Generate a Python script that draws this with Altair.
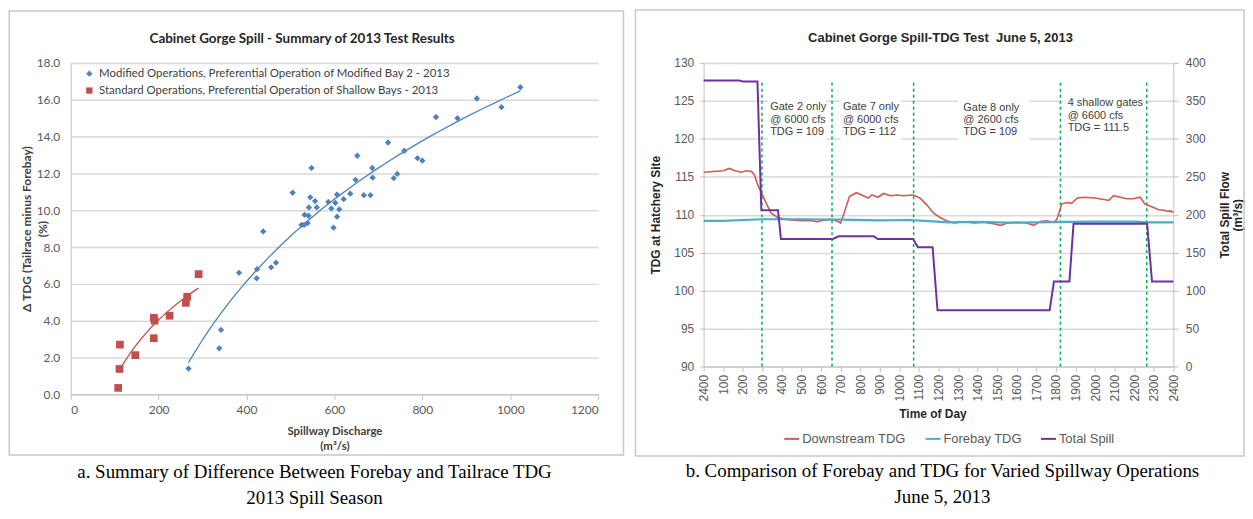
import altair as alt
import pandas as pd

# ---------------- Panel a: Cabinet Gorge Spill - Summary of 2013 Test Results ----------------
series_a = [
    "Modified Operations, Preferential Operation of Modified Bay 2 - 2013",
    "Standard Operations, Preferential Operation of Shallow Bays - 2013",
]
color_a = ["#4F81BD", "#C0504D"]
mod_discharge = [268, 338, 342, 383, 424, 423, 438, 456, 467, 505,
                 525, 531, 532, 539, 541, 542, 545, 548, 556, 560,
                 586, 593, 598, 602, 606, 606, 611, 621, 636, 648,
                 652, 667, 682, 686, 687, 722, 735, 743, 759, 789,
                 800, 831, 880, 924, 980, 1023]
mod_dtdg = [1.4, 2.5, 3.5, 6.6, 6.8, 6.3, 8.85, 6.9, 7.15, 10.95,
            9.2, 9.2, 9.75, 9.3, 9.7, 10.15, 10.7, 12.3, 10.5, 10.15,
            10.45, 10.1, 9.05, 10.4, 10.85, 9.65, 10.05, 10.6, 10.9, 11.65,
            12.96, 10.82, 10.82, 12.3, 11.77, 13.68, 11.74, 11.97, 13.23, 12.83,
            12.69, 15.06, 15.0, 16.07, 15.6, 16.68]
std_discharge = [108, 111, 112, 147, 189, 189, 191, 225, 262, 265, 291]
std_dtdg = [0.35, 1.38, 2.7, 2.13, 3.05, 4.16, 4.0, 4.27, 4.97, 5.3, 6.53]
discharge_ticks = [0, 200, 400, 600, 800, 1000, 1200]
dtdg_ticks = [0, 2, 4, 6, 8, 10, 12, 14, 16, 18]

# ---------------- Panel b: Cabinet Gorge Spill-TDG Test June 5, 2013 ----------------
series_b = ["Downstream TDG", "Forebay TDG", "Total Spill"]
color_b = ["#D05A55", "#4BACC6", "#7030A0"]
down_hour = [0.0, 0.5, 1.0, 1.3, 1.6, 1.9, 2.2, 2.45, 2.6, 2.77, 2.97, 3.2, 3.45, 3.8,
             4.3, 5.0, 5.5, 5.8, 6.0, 6.5, 6.85, 7.0, 7.2, 7.45, 7.8, 8.0, 8.4, 8.6,
             8.9, 9.2, 9.55, 9.9, 10.2, 10.7, 11.05, 11.4, 11.75, 12.1, 12.4, 12.8,
             13.3, 13.8, 14.3, 14.8, 15.2, 15.5, 16.0, 16.5, 16.85, 17.2, 17.5, 17.9,
             18.05, 18.3, 18.55, 18.8, 19.1, 19.5, 20.0, 20.45, 20.7, 20.95, 21.3,
             21.6, 21.95, 22.3, 22.55, 22.9, 23.25, 23.5, 23.7, 23.85, 24.0]
down_tdg = [115.6, 115.7, 115.8, 116.1, 115.8, 115.6, 115.8, 115.7, 115.2, 113.9, 112.8,
            111.5, 110.2, 109.6, 109.35, 109.2, 109.25, 109.05, 109.2, 109.4, 109.1, 108.9,
            110.4, 112.4, 112.9, 112.7, 112.2, 112.6, 112.3, 112.8, 112.5, 112.6, 112.5,
            112.6, 112.2, 111.3, 110.2, 109.6, 109.2, 108.9, 109.1, 108.9, 109.0, 108.8,
            108.6, 108.9, 109.0, 108.9, 108.6, 109.1, 109.2, 109.0, 109.4, 111.4, 111.6,
            111.5, 112.2, 112.3, 112.2, 112.0, 111.9, 112.5, 112.3, 112.1, 112.1, 112.3,
            111.4, 111.05, 110.65, 110.6, 110.45, 110.5, 110.3]
fore_hour = [0.0, 1.0, 2.0, 3.0, 5.0, 7.0, 9.0, 10.5, 11.5, 12.5, 14.0, 15.5, 17.0,
             18.5, 20.0, 22.0, 22.7, 24.0]
fore_tdg = [109.2, 109.2, 109.3, 109.4, 109.4, 109.35, 109.25, 109.3, 109.15, 109.0,
            109.05, 108.95, 109.0, 109.05, 109.1, 109.1, 109.0, 109.0]
spill_hour = [0.0, 1.8, 2.0, 2.75, 2.95, 3.8, 3.95, 6.6, 6.9, 8.7, 8.9, 10.7, 10.95,
              11.7, 11.95, 17.68, 17.9, 18.69, 18.9, 22.66, 22.91, 24.0]
spill_flow = [377, 377, 375.5, 375.5, 206, 206, 168, 168, 171.5, 171.5, 168, 168, 157,
              157, 74, 74, 112, 112, 188, 188, 112, 112]
gate_change_hour = [2.98, 6.56, 10.73, 18.23, 22.64]
note_hour = [3.4, 7.12, 13.27, 18.6]
note_text = [
    ["Gate 2 only", "@ 6000 cfs", "TDG = 109"],
    ["Gate 7 only", "@ 6000 cfs", "TDG = 112"],
    ["Gate 8 only", "@ 2600 cfs", "TDG = 109"],
    ["4 shallow gates", "@ 6600 cfs", "TDG = 111.5"],
]
note_tdg = [
    [124.14, 122.52, 120.95],
    [124.14, 122.52, 120.95],
    [124.06, 122.49, 120.86],
    [124.66, 123.05, 121.44],
]
box_hour_start = [3.3, 7.0, 13.0, 18.3]
box_hour_end = [6.25, 10.1, 16.65, 22.6]
hour_ticks = list(range(25))
tdg_ticks = [90, 95, 100, 105, 110, 115, 120, 125, 130]
spill_ticks = [0, 50, 100, 150, 200, 250, 300, 350, 400]

GRID = "#d9d9d9"
AXISC = "#bfbfbf"
LAB = "#595959"
SANS_A = "Lato"
SANS_B = "Liberation Sans"
SERIF = "Liberation Serif"

dummy = pd.DataFrame({"k": [0]})


def deco_text(txt, x, y, **kw):
    return alt.Chart(dummy).mark_text(text=txt, **kw).encode(x=alt.value(x), y=alt.value(y))


# ============ Panel a ============
WA, HA = 530, 333
mod_df = pd.DataFrame({"q": mod_discharge, "d": mod_dtdg, "s": series_a[0]})
std_df = pd.DataFrame({"q": std_discharge, "d": std_dtdg, "s": series_a[1]})

axis_xa = alt.Axis(values=discharge_ticks, format="d", grid=False, title=["Spillway Discharge", "(m³/s)"],
                   titleX=265, titleY=37.5, titleBaseline="middle", titleLineHeight=15,
                   titleFont=SANS_A, titleFontSize=11.5, titleFontWeight="bold", titleColor="#404040",
                   labelFont=SANS_A, labelFontSize=12, labelColor=LAB, domainColor=AXISC,
                   tickColor=AXISC, tickSize=5, labelPadding=5)
axis_ya = alt.Axis(values=dtdg_ticks, format=".1f", grid=True, gridColor=GRID, gridWidth=1.5,
                   ticks=False, labelPadding=11, domainColor=AXISC,
                   labelFont=SANS_A, labelFontSize=12, labelColor=LAB,
                   title=["Δ TDG (Tailrace minus Forebay)", "(%)"], titleAngle=270,
                   titleX=-44, titleY=166.5, titleBaseline="middle", titleAlign="center",
                   titleLineHeight=16, titleFont=SANS_A, titleFontSize=12,
                   titleFontWeight="bold", titleColor="#404040")
sx_a = alt.Scale(domain=[0, 1200], nice=False)
sy_a = alt.Scale(domain=[0, 18], nice=False)
legend_a = alt.Legend(title=None, orient="none", legendX=13, legendY=5, padding=0,
                      labelFont=SANS_A, labelFontSize=11.5, labelColor="#404040", labelLimit=600,
                      symbolSize=40, rowPadding=4, labelOffset=4)
col_a = alt.Color("s:N", scale=alt.Scale(domain=series_a, range=color_a), legend=legend_a)
shp_a = alt.Shape("s:N", scale=alt.Scale(domain=series_a, range=["diamond", "square"]), legend=legend_a)

fit_mod = alt.Chart(mod_df).transform_regression("q", "d", method="log").mark_line(
    color=color_a[0], strokeWidth=1.3).encode(
    x=alt.X("q:Q", scale=sx_a, axis=axis_xa), y=alt.Y("d:Q", scale=sy_a, axis=axis_ya))
fit_std = alt.Chart(std_df).transform_regression("q", "d", method="log").mark_line(
    color=color_a[1], strokeWidth=1.3).encode(
    x=alt.X("q:Q", scale=sx_a, axis=axis_xa), y=alt.Y("d:Q", scale=sy_a, axis=axis_ya))
pts_mod = alt.Chart(mod_df).mark_point(filled=True, size=40, opacity=1).encode(
    x=alt.X("q:Q", scale=sx_a, axis=axis_xa), y=alt.Y("d:Q", scale=sy_a, axis=axis_ya),
    color=col_a, shape=shp_a)
pts_std = alt.Chart(std_df).mark_point(filled=True, size=60, opacity=1).encode(
    x=alt.X("q:Q", scale=sx_a, axis=axis_xa), y=alt.Y("d:Q", scale=sy_a, axis=axis_ya),
    color=col_a, shape=shp_a)

border_a = alt.Chart(dummy).mark_rect(fillOpacity=0, stroke="#c8c8c8", strokeWidth=1.5).encode(
    x=alt.value(-61.75), x2=alt.value(555.5), y=alt.value(-52.25), y2=alt.value(394))
title_a = deco_text("Cabinet Gorge Spill - Summary of 2013 Test Results", 232.5, -24,
                    font=SANS_A, fontSize=13.5, fontWeight="bold", color="#262626", baseline="middle")
cap_a1 = deco_text("a. Summary of Difference Between Forebay and Tailrace TDG", 245, 417,
                   font=SERIF, fontSize=19, color="#000000", baseline="alphabetic")
cap_a2 = deco_text("2013 Spill Season", 245, 443,
                   font=SERIF, fontSize=19, color="#000000", baseline="alphabetic")

panel_a = alt.layer(border_a, fit_mod, fit_std, pts_mod, pts_std, title_a, cap_a1, cap_a2).properties(
    width=WA, height=HA)

# ============ Panel b ============
WB, HB = 472, 305
down_df = pd.DataFrame({"h": down_hour, "v": down_tdg, "s": series_b[0]})
fore_df = pd.DataFrame({"h": fore_hour, "v": fore_tdg, "s": series_b[1]})
spill_df = pd.DataFrame({"h": spill_hour, "f": spill_flow, "s": series_b[2]})
rules_df = pd.DataFrame({"h": gate_change_hour, "lo": [90] * 5, "hi": [127.5] * 5})
boxes_df = pd.DataFrame({"h": box_hour_start, "h1": box_hour_end,
                         "lo": [119.2] * 4, "hi": [126.0] * 4})
note_rows = []
for hx, lines, ys in zip(note_hour, note_text, note_tdg):
    for t, yv in zip(lines, ys):
        note_rows.append({"h": hx, "v": yv, "label": t})
notes_df = pd.DataFrame(note_rows)

sx_b = alt.Scale(domain=[0, 24], nice=False)
sy_b = alt.Scale(domain=[90, 130], nice=False)
sy_s = alt.Scale(domain=[0, 400], nice=False)
axis_xb = alt.Axis(values=hour_ticks, labelAngle=270,
                   labelExpr="datum.value == 0 ? '2400' : '' + datum.value * 100",
                   grid=False, title="Time of Day", titleX=230, titleY=47, titleBaseline="middle",
                   titleFont=SANS_B, titleFontSize=12, titleFontWeight="bold", titleColor="#262626",
                   labelFont=SANS_B, labelFontSize=12, labelColor=LAB, domainColor=AXISC,
                   tickColor=AXISC, tickSize=5, labelPadding=3)
axis_yb = alt.Axis(values=tdg_ticks, orient="left", grid=True, gridColor=GRID, gridWidth=1.5,
                   domainColor=AXISC, tickColor=AXISC, tickSize=4, labelPadding=6,
                   labelFont=SANS_B, labelFontSize=12, labelColor=LAB,
                   title="TDG at Hatchery Site", titleAngle=270, titleX=-48, titleY=152.5,
                   titleBaseline="middle", titleAlign="center", titleFont=SANS_B, titleFontSize=12,
                   titleFontWeight="bold", titleColor="#262626")
axis_ys = alt.Axis(values=spill_ticks, orient="right", grid=False,
                   domainColor=AXISC, tickColor=AXISC, tickSize=5, labelPadding=7,
                   labelFont=SANS_B, labelFontSize=12, labelColor=LAB,
                   title=["Total Spill Flow", "(m³/s)"], titleAngle=270, titleX=51, titleY=152.5,
                   titleBaseline="middle", titleAlign="center", titleLineHeight=13,
                   titleFont=SANS_B, titleFontSize=12, titleFontWeight="bold", titleColor="#262626")
legend_b = alt.Legend(title=None, orient="none", direction="horizontal", legendX=80, legendY=369,
                      symbolType="stroke", symbolStrokeWidth=2, symbolSize=225,
                      labelFont=SANS_B, labelFontSize=13, labelColor=LAB,
                      columnPadding=15, labelOffset=2, padding=0)
col_b = alt.Color("s:N", scale=alt.Scale(domain=series_b, range=color_b), legend=legend_b)


def xb(field):
    return alt.X(field, type="quantitative", scale=sx_b, axis=axis_xb)


def yb(field):
    return alt.Y(field, type="quantitative", scale=sy_b, axis=axis_yb)


boxes = alt.Chart(boxes_df).mark_rect(color="white").encode(
    x=xb("h"), x2="h1", y=yb("lo"), y2="hi")
rules = alt.Chart(rules_df).mark_rule(color="#00B050", strokeWidth=1.5, strokeDash=[3, 3]).encode(
    x=xb("h"), y=yb("lo"), y2="hi")
down_line = alt.Chart(down_df).mark_line(strokeWidth=1.6).encode(x=xb("h"), y=yb("v"), color=col_b)
fore_line = alt.Chart(fore_df).mark_line(strokeWidth=2.2).encode(x=xb("h"), y=yb("v"), color=col_b)
notes = alt.Chart(notes_df).mark_text(align="left", baseline="middle", font=SANS_B, fontSize=11,
                                      color="#404040").encode(x=xb("h"), y=yb("v"), text="label:N")
tdg_layer = alt.layer(boxes, rules, down_line, fore_line, notes)
spill_layer = alt.Chart(spill_df).mark_line(strokeWidth=2).encode(
    x=xb("h"), y=alt.Y("f:Q", scale=sy_s, axis=axis_ys), color=col_b)

border_b = alt.Chart(dummy).mark_rect(fillOpacity=0, stroke="#c8c8c8", strokeWidth=1.5).encode(
    x=alt.value(-68.5), x2=alt.value(543), y=alt.value(-53.25), y2=alt.value(395))
title_b = deco_text("Cabinet Gorge Spill-TDG Test\u00a0 June 5, 2013", 238, -25,
                    font=SANS_B, fontSize=13, fontWeight="bold", color="#262626", baseline="middle")
cap_b1 = deco_text("b. Comparison of Forebay and TDG for Varied Spillway Operations", 240, 416,
                   font=SERIF, fontSize=19, color="#000000", baseline="alphabetic")
cap_b2 = deco_text("June 5, 2013", 240, 442,
                   font=SERIF, fontSize=19, color="#000000", baseline="alphabetic")

panel_b = alt.layer(border_b, title_b, cap_b1, cap_b2, tdg_layer, spill_layer).resolve_scale(
    y="independent").properties(width=WB, height=HB)

chart = alt.hconcat(panel_a, panel_b, spacing=9).resolve_scale(
    color="independent", shape="independent").properties(padding=0).configure_view(stroke=None)

chart.save("out.html", embed_options={"renderer": "svg", "actions": False})
